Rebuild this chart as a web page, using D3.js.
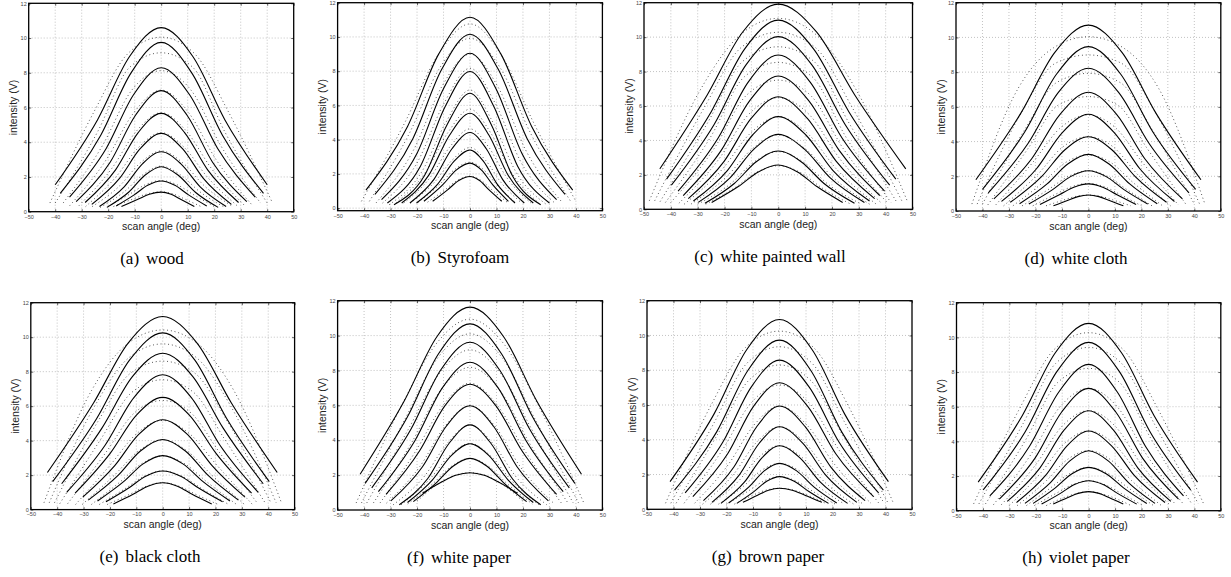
<!DOCTYPE html>
<html>
<head>
<meta charset="utf-8">
<script src="https://cdnjs.cloudflare.com/ajax/libs/d3/7.8.5/d3.min.js"></script>
<style>
    body { margin: 0; background: #fff; }
    svg { display: block; }
    .tick text { font-family: "Liberation Sans", Arial, sans-serif; font-size: 5.5px; fill: #444; }
    .tick line { stroke: #000; stroke-width: 0.6; }
    .axlab { font-family: "Liberation Sans", Arial, sans-serif; font-size: 10.5px; fill: #222; }
    .cap { font-family: "Liberation Serif", "Times New Roman", serif; font-size: 17px; fill: #000; }
</style>
</head>
<body>
<svg id="fig" width="1231" height="577"></svg>
<script>
var angleTicks = [-50, -40, -30, -20, -10, 0, 10, 20, 30, 40, 50]
var intensityTicks = [0, 2, 4, 6, 8, 10, 12]
var panelLetters = ['a', 'b', 'c', 'd', 'e', 'f', 'g', 'h']
var surfaceNames = ['wood', 'Styrofoam', 'white painted wall', 'white cloth',
    'black cloth', 'white paper', 'brown paper', 'violet paper']

// one row per scan: [left end angle, right end angle, end intensity,
//   intensity at 0.6 of the end angle, at 0.3 of the end angle, peak at 0 deg]
var woodFit = [
    [-40, 40, 1.55, 5.30, 8.92, 10.6], [-38.1, 38.6, 1.06, 4.39, 7.98, 9.75],
    [-34.6, 35.5, 0.84, 3.64, 6.75, 8.29], [-32.1, 32.3, 0.58, 2.85, 5.57, 6.97],
    [-28.7, 29.2, 0.53, 2.41, 4.57, 5.66], [-26.2, 26.5, 0.42, 1.92, 3.64, 4.51],
    [-23.3, 24.5, 0.3, 1.43, 2.77, 3.45], [-20.5, 21.5, 0.25, 1.12, 2.10, 2.59],
    [-17, 17.2, 0.33, 0.97, 1.52, 1.77], [-15, 12.5, 0.3, 0.70, 1.00, 1.13]
]
var woodScan = [
    [-42, 42, 0.5, 5.8, 9.1, 10.05], [-40, 40, 0.5, 4.6, 8.3, 9.15],
    [-37, 37.5, 0.5, 3.8, 7.0, 8.12], [-34.5, 34.5, 0.35, 3.0, 5.7, 7.0],
    [-31, 31.5, 0.35, 2.5, 4.65, 5.7], [-28.5, 29, 0.3, 2.0, 3.7, 4.55],
    [-26, 27, 0.3, 1.5, 2.82, 3.5], [-23, 24, 0.25, 1.17, 2.13, 2.62],
    [-20, 20, 0.3, 1.0, 1.55, 1.8], [-18, 15, 0.3, 0.72, 1.02, 1.15]
]
var styroFit = [
    [-39.3, 38.8, 1.05, 4.77, 9.01, 11.15], [-35.9, 35.9, 0.8, 4.07, 8.08, 10.16],
    [-33.4, 32.7, 0.5, 3.19, 6.97, 9.05], [-31.2, 30.0, 0.3, 2.45, 5.94, 7.98],
    [-28.7, 26.7, 0.2, 1.89, 4.89, 6.71], [-25.8, 23.9, 0.3, 1.94, 4.26, 5.54],
    [-22.7, 20.5, 0.3, 1.68, 3.47, 4.42], [-20.2, 17.0, 0.3, 1.42, 2.73, 3.40],
    [-17.4, 14.5, 0.4, 1.34, 2.22, 2.63], [-14.1, 12.0, 0.4, 1.07, 1.61, 1.85]
]
var styroScan = [
    [-41, 40, 0.4, 5.0, 8.9, 10.76], [-38, 38, 0.4, 4.4, 8.2, 9.92],
    [-35.5, 35, 0.3, 3.4, 7.1, 9.0], [-33, 32, 0.3, 2.7, 6.1, 8.17],
    [-30.5, 29, 0.2, 2.1, 5.0, 6.9], [-28, 26, 0.3, 2.1, 4.4, 5.78],
    [-25, 23, 0.3, 1.8, 3.6, 4.63], [-22.5, 19.5, 0.3, 1.5, 2.8, 3.54],
    [-19.5, 17, 0.35, 1.35, 2.25, 2.68], [-16, 14, 0.35, 1.05, 1.62, 1.87]
]
var wallFit = [
    [-44.1, 47.5, 2.35, 6.64, 10.30, 11.92], [-41.6, 43.8, 1.75, 5.67, 9.32, 10.99],
    [-39.8, 41.5, 1.4, 4.93, 8.40, 10.03], [-37.3, 39.6, 1.05, 4.14, 7.39, 8.96],
    [-35.4, 37.8, 0.8, 3.42, 6.31, 7.74], [-33.5, 35.9, 0.62, 2.80, 5.29, 6.54],
    [-31.6, 34.0, 0.48, 2.25, 4.33, 5.38], [-29.8, 32.1, 0.4, 1.84, 3.51, 4.35],
    [-27.3, 28.4, 0.35, 1.50, 2.76, 3.39], [-24.8, 24.0, 0.4, 1.32, 2.17, 2.57]
]
var wallScan = [
    [-48, 48, 0.5, 7.0, 10.1, 11.09], [-46, 46, 0.5, 5.9, 9.4, 10.28],
    [-44, 44, 0.45, 5.0, 8.6, 9.44], [-42, 42, 0.4, 4.2, 7.7, 8.53],
    [-40, 40.5, 0.4, 3.5, 6.6, 7.5], [-37, 38.5, 0.35, 2.9, 5.5, 6.48],
    [-35, 36.5, 0.3, 2.3, 4.4, 5.38], [-32.5, 34, 0.3, 1.85, 3.5, 4.32],
    [-30, 31, 0.3, 1.45, 2.75, 3.35], [-27, 27, 0.3, 1.25, 2.15, 2.53]
]
var clothFit = [
    [-42.5, 42.5, 1.8, 5.64, 9.12, 10.71], [-40, 40.5, 1.25, 4.57, 7.89, 9.47],
    [-37.8, 38, 1.05, 3.92, 6.83, 8.22], [-35.7, 35.5, 0.7, 3.01, 5.57, 6.84],
    [-32.8, 32.5, 0.55, 2.42, 4.52, 5.57], [-29.5, 29.5, 0.5, 1.98, 3.53, 4.28],
    [-26, 26, 0.42, 1.56, 2.71, 3.26], [-22.5, 22.4, 0.4, 1.23, 1.98, 2.32],
    [-18.3, 18, 0.38, 0.94, 1.37, 1.56], [-13.2, 13.2, 0.3, 0.61, 0.83, 0.92]
]
var clothScan = [
    [-44, 44, 0.4, 7.1, 9.4, 10.04], [-42, 42, 0.4, 5.7, 8.5, 8.99],
    [-40, 40, 0.4, 4.7, 7.4, 7.93], [-38, 37, 0.35, 3.6, 6.1, 6.59],
    [-35, 34, 0.35, 2.8, 4.8, 5.53], [-32, 31, 0.3, 2.1, 3.7, 4.28],
    [-28.5, 28, 0.3, 1.65, 2.8, 3.23], [-25, 24, 0.3, 1.25, 2.0, 2.32],
    [-21, 20, 0.3, 0.95, 1.4, 1.59], [-16, 16, 0.3, 0.62, 0.84, 0.92]
]
var blackFit = [
    [-43.7, 43.4, 2.15, 6.18, 9.66, 11.2], [-41.7, 40.4, 1.62, 5.28, 8.68, 10.25],
    [-38.3, 38.1, 1.5, 4.74, 7.71, 9.07], [-36.4, 36.2, 1.0, 3.73, 6.50, 7.82],
    [-33.2, 33.7, 0.95, 3.26, 5.48, 6.51], [-30.3, 31.2, 0.72, 2.55, 4.36, 5.21],
    [-28.2, 28.7, 0.55, 1.98, 3.40, 4.07], [-24.7, 25.5, 0.5, 1.62, 2.65, 3.13],
    [-21.5, 22.7, 0.45, 1.25, 1.94, 2.24], [-18.7, 18.6, 0.33, 0.89, 1.36, 1.56]
]
var blackScan = [
    [-45, 45, 0.4, 6.9, 9.6, 10.42], [-43, 43, 0.4, 6.0, 8.8, 9.61],
    [-41, 41, 0.4, 5.1, 7.9, 8.61], [-39, 39, 0.35, 4.1, 6.8, 7.53],
    [-36, 36, 0.35, 3.3, 5.6, 6.33], [-33, 34, 0.3, 2.6, 4.4, 5.17],
    [-30.5, 31, 0.3, 2.0, 3.4, 4.05], [-27, 28, 0.3, 1.6, 2.65, 3.11],
    [-24, 25, 0.3, 1.2, 1.92, 2.24], [-21, 21, 0.3, 0.88, 1.35, 1.56]
]
var whiteFit = [
    [-41.5, 42.1, 2.05, 6.23, 9.95, 11.63], [-39.6, 39.6, 1.53, 5.30, 8.96, 10.67],
    [-37.1, 37.5, 1.27, 4.64, 8.01, 9.62], [-34.6, 35.2, 1.05, 3.99, 7.02, 8.47],
    [-31.7, 32.7, 0.89, 3.40, 5.97, 7.21], [-29.9, 29.6, 0.52, 2.48, 4.80, 5.98],
    [-26.7, 26.7, 0.3, 1.79, 3.80, 4.88], [-23.6, 23.9, 0.43, 1.73, 3.12, 3.80],
    [-21.4, 21.4, 0.48, 1.54, 2.51, 2.96], [-17.9, 17.9, 0.96, 1.60, 1.99, 2.14]
]
var whiteScan = [
    [-43, 43, 0.4, 6.0, 9.5, 10.94], [-41, 41, 0.4, 5.2, 8.7, 10.1],
    [-39, 39, 0.4, 4.6, 7.8, 9.18], [-36.5, 37, 0.4, 3.9, 6.9, 8.18],
    [-34, 34.5, 0.4, 3.4, 6.0, 7.27], [-31.5, 31.5, 0.4, 2.5, 4.8, 5.98],
    [-29, 29, 0.3, 1.9, 3.8, 4.88], [-26, 26, 0.3, 1.7, 3.1, 3.82],
    [-23.5, 23.5, 0.35, 1.5, 2.5, 2.96], [-20, 20, 0.5, 1.5, 1.97, 2.14]
]
var brownFit = [
    [-41.3, 41.1, 1.59, 5.46, 9.18, 10.92], [-39.6, 39.2, 1.1, 4.44, 8.00, 9.73],
    [-35.6, 37.4, 0.94, 3.87, 7.03, 8.58], [-32.7, 35.5, 0.73, 3.18, 5.92, 7.28],
    [-28.7, 32.3, 0.5, 2.43, 4.75, 5.94], [-25.5, 29.2, 0.4, 1.95, 3.80, 4.75],
    [-22.1, 25.7, 0.34, 1.56, 2.96, 3.66], [-19.2, 21.6, 0.36, 1.29, 2.21, 2.64],
    [-16.1, 18.5, 0.34, 1.02, 1.61, 1.88], [-13.8, 16, 0.4, 0.81, 1.10, 1.21]
]
var brownScan = [
    [-43, 43, 0.35, 6.0, 9.3, 10.25], [-41, 41, 0.35, 5.0, 8.4, 9.35],
    [-39, 39.5, 0.35, 4.3, 7.4, 8.3], [-36, 37.5, 0.35, 3.4, 6.1, 7.15],
    [-32, 34.5, 0.35, 2.6, 4.85, 5.94], [-29, 31.5, 0.3, 2.0, 3.85, 4.75],
    [-26, 28, 0.3, 1.6, 3.0, 3.66], [-23, 24.5, 0.3, 1.3, 2.23, 2.64],
    [-20, 21, 0.3, 1.03, 1.62, 1.88], [-17, 18, 0.3, 0.8, 1.1, 1.21]
]
var violetFit = [
    [-41.8, 41.2, 1.65, 5.49, 9.13, 10.81], [-39.9, 38.6, 1.2, 4.57, 8.04, 9.71],
    [-37.4, 35.9, 0.85, 3.70, 6.86, 8.44], [-33.8, 34, 0.67, 3.03, 5.71, 7.06],
    [-30.8, 31.1, 0.54, 2.46, 4.66, 5.77], [-27.3, 28.9, 0.47, 2.02, 3.74, 4.6],
    [-24.1, 25.1, 0.42, 1.62, 2.86, 3.46], [-21, 22, 0.42, 1.32, 2.13, 2.5],
    [-17.8, 18.2, 0.38, 1.00, 1.51, 1.73], [-13.4, 13.1, 0.38, 0.75, 1.00, 1.1]
]
var violetScan = [
    [-43.5, 43.5, 0.4, 5.9, 9.3, 10.27], [-41.5, 41.5, 0.4, 5.0, 8.5, 9.42],
    [-39, 39, 0.4, 4.2, 7.4, 8.21], [-36, 36, 0.35, 3.3, 6.0, 7.06],
    [-33, 33, 0.35, 2.7, 4.9, 5.77], [-30, 31, 0.3, 2.2, 3.9, 4.6],
    [-27, 27.5, 0.3, 1.7, 2.95, 3.46], [-23.5, 24.5, 0.3, 1.35, 2.15, 2.5],
    [-20.5, 20.5, 0.3, 1.0, 1.5, 1.73], [-16, 16, 0.3, 0.74, 0.98, 1.1]
]

window.onload = function () {
    var fits = [woodFit, styroFit, wallFit, clothFit, blackFit, whiteFit, brownFit, violetFit]
    var scans = [woodScan, styroScan, wallScan, clothScan, blackScan, whiteScan, brownScan, violetScan]

    // plot boxes: left, right, top, bottom (px), lowest y value, caption centre
    var boxes = [
        [28.7, 293.7, 3.3, 211.7, 0, 152],
        [337.6, 602.4, 2.7, 210.7, -0.15, 460],
        [644, 912.5, 2.7, 209.3, 0, 770],
        [956, 1220.8, 2.7, 211, 0, 1076],
        [30.8, 294.6, 302.7, 509.6, 0, 150],
        [337.6, 602.4, 300.7, 510, 0, 459],
        [647, 912, 300.7, 509.3, 0, 768],
        [956.5, 1220.8, 302.7, 510.7, 0, 1076]
    ]

    var svg = d3.select('#fig')

    function profile(c) {
        return [[c[0], c[2]], [0.6 * c[0], c[3]], [0.3 * c[0], c[4]], [0, c[5]],
            [0.3 * c[1], c[4]], [0.6 * c[1], c[3]], [c[1], c[2]]]
    }

    boxes.forEach(function (b, k) {
        var x = d3.scaleLinear().domain([-50, 50]).range([b[0], b[1]])
        var y = d3.scaleLinear().domain([b[4], 12]).range([b[3], b[2]])
        var g = svg.append('g')

        // dotted grid
        g.selectAll('line.vg').data(angleTicks.slice(1, -1)).enter().append('line')
            .attr('x1', function (d) { return x(d) }).attr('x2', function (d) { return x(d) })
            .attr('y1', b[3]).attr('y2', b[2])
            .attr('stroke', '#9a9a9a').attr('stroke-width', 0.6).attr('stroke-dasharray', '1,2')
        g.selectAll('line.hg').data(intensityTicks.filter(function (d) { return y(d) < b[3] - 1 && d < 12 })).enter().append('line')
            .attr('y1', function (d) { return y(d) }).attr('y2', function (d) { return y(d) })
            .attr('x1', b[0]).attr('x2', b[1])
            .attr('stroke', '#9a9a9a').attr('stroke-width', 0.6).attr('stroke-dasharray', '1,2')

        var line = d3.line()
            .x(function (d) { return x(d[0]) })
            .y(function (d) { return y(d[1]) })
            .curve(d3.curveMonotoneX)

        g.selectAll('path.scan').data(scans[k]).enter().append('path')
            .attr('d', function (d) { return line(profile(d)) })
            .attr('fill', 'none').attr('stroke', '#3a3a3a').attr('stroke-width', 0.95)
            .attr('stroke-dasharray', '0.9,2.9')

        g.selectAll('path.fit').data(fits[k]).enter().append('path')
            .attr('d', function (d) { return line(profile(d)) })
            .attr('fill', 'none').attr('stroke', '#000').attr('stroke-width', 1.1)

        // axes with inward ticks
        g.append('g').attr('transform', 'translate(0,' + b[3] + ')')
            .call(d3.axisBottom(x).tickValues(angleTicks).tickSize(-2.5).tickSizeOuter(0).tickPadding(3))
            .select('.domain').remove()
        g.append('g').attr('transform', 'translate(0,' + b[2] + ')')
            .call(d3.axisTop(x).tickValues(angleTicks).tickSize(-2.5).tickSizeOuter(0).tickFormat(''))
            .select('.domain').remove()
        g.append('g').attr('transform', 'translate(' + b[0] + ',0)')
            .call(d3.axisLeft(y).tickValues(intensityTicks).tickSize(-2.5).tickSizeOuter(0).tickPadding(2))
            .select('.domain').remove()
        g.append('g').attr('transform', 'translate(' + b[1] + ',0)')
            .call(d3.axisRight(y).tickValues(intensityTicks).tickSize(-2.5).tickSizeOuter(0).tickFormat(''))
            .select('.domain').remove()

        g.append('rect')
            .attr('x', b[0]).attr('y', b[2])
            .attr('width', b[1] - b[0]).attr('height', b[3] - b[2])
            .attr('fill', 'none').attr('stroke', '#000').attr('stroke-width', 1.3)

        g.append('text').attr('class', 'axlab')
            .attr('x', (b[0] + b[1]) / 2).attr('y', b[3] + 18.5)
            .attr('text-anchor', 'middle').text('scan angle (deg)')
        g.append('text').attr('class', 'axlab')
            .attr('transform', 'translate(' + (b[0] - 11.5) + ',' + (b[2] + b[3]) / 2 + ') rotate(-90)')
            .attr('text-anchor', 'middle').text('intensity (V)')

        var cap = g.append('text').attr('class', 'cap')
            .attr('x', b[5]).attr('y', b[3] + 52.5).attr('text-anchor', 'middle')
        cap.append('tspan').text('(' + panelLetters[k] + ')')
        cap.append('tspan').attr('dx', 7).text(surfaceNames[k])
    })
}
</script>
</body>
</html>
